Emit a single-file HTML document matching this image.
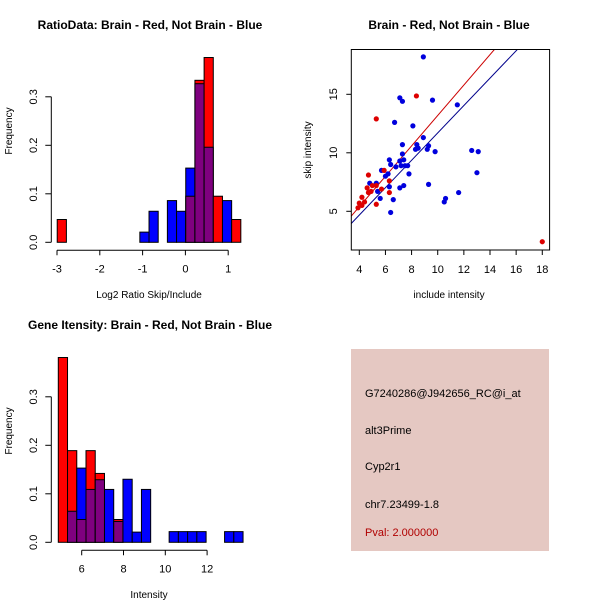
<!DOCTYPE html>
<html><head><meta charset="utf-8"><style>
body{margin:0;background:#fff}
svg{display:block;font-family:"Liberation Sans",sans-serif}
</style></head><body>
<svg id="s" width="600" height="600" xmlns="http://www.w3.org/2000/svg">
<rect x="0" y="0" width="600" height="600" fill="#fff"/>
<g>
<rect x="351" y="349" width="198" height="202" fill="#e5c8c2"/>
<text x="365" y="397" font-size="11" fill="#000">G7240286@J942656_RC@i_at</text>
<text x="365" y="434" font-size="11" fill="#000">alt3Prime</text>
<text x="365" y="470" font-size="11" fill="#000">Cyp2r1</text>
<text x="365" y="508" font-size="11" fill="#000">chr7.23499-1.8</text>
<text x="365" y="536" font-size="11" fill="#b00000">Pval: 2.000000</text>
</g>
</svg>
<script>
// ---- Ratio histogram data ----
const ratioBinStart = -2.995;
const ratioBinWidth = 0.2145;
const ratioRed  = [0.047,0,0,0,0,0,0,0,0,0,0,0,0,0,0.095,0.334,0.381,0.095,0,0.047];
const ratioBlue = [0,0,0,0,0,0,0,0,0,0.021,0.064,0,0.086,0.064,0.153,0.327,0.196,0,0.086,0];
const ratioXTicks = [-3,-2,-1,0,1];
const freqTicks = [0,0.1,0.2,0.3];
const freqTickLabels = ["0.0","0.1","0.2","0.3"];
// ---- Intensity histogram data ----
const intBinStart = 4.88;
const intBinWidth = 0.442;
const intRed  = [0.381,0.189,0.047,0.189,0.142,0,0.047,0,0,0,0,0,0,0,0,0,0,0,0,0];
const intBlue = [0,0.064,0.153,0.109,0.129,0.109,0.043,0.13,0.021,0.109,0,0,0.022,0.022,0.022,0.022,0,0,0.022,0.022];
const intXTicks = [6,8,10,12];
// ---- Scatter data ----
const redX = [3.9,4.0,4.2,4.2,4.4,4.6,4.7,4.7,4.9,5.0,5.3,5.3,5.7,5.9,6.3,6.3,5.3,8.37,18.0];
const redY = [5.3,5.7,5.5,6.2,5.8,7.0,8.1,6.6,6.7,7.2,5.6,7.2,6.9,8.5,7.6,6.6,12.9,14.86,2.4];
const blueX = [4.8,5.3,5.4,5.6,5.7,6.0,6.2,6.3,6.3,6.4,6.4,6.6,6.7,6.8,7.1,7.1,7.1,7.2,7.3,7.3,7.3,7.4,7.4,7.5,7.7,7.8,8.1,8.3,8.4,8.5,8.9,8.9,9.2,9.3,9.3,9.6,9.8,10.5,10.6,11.5,11.6,12.6,13.0,13.1];
const blueY = [7.4,7.4,6.7,6.1,8.5,8.0,8.2,9.4,7.1,9.0,4.9,6.0,12.6,8.8,14.7,9.3,7.0,8.9,9.9,14.4,10.7,9.4,7.2,8.9,8.9,8.2,12.3,10.3,10.7,10.4,18.2,11.3,10.3,7.3,10.6,14.5,10.1,5.8,6.1,14.1,6.6,10.2,8.3,10.1];
const redFit = [0.19,1.30];
const blueFit = [0.0,1.17];
const scatXTicks = [4,6,8,10,12,14,16,18];
const scatYTicks = [5,10,15];

const NS="http://www.w3.org/2000/svg";
const svg=document.getElementById('s');
function mk(tag,attrs,parent){const e=document.createElementNS(NS,tag);for(const k in attrs)e.setAttribute(k,attrs[k]);(parent||svg).appendChild(e);return e;}
function txt(x,y,s,attrs,parent){const e=mk('text',Object.assign({x:x,y:y},attrs),parent);e.textContent=s;return e;}

function histogram(name,title,xlabel,top,x0px,unitPx,binStart,binW,red,blue,xticks){
  const g=mk('g',{});
  
  
  const base=top+242.3, per=485;
  const sx=v=>x0px+v*unitPx, sy=v=>base-v*per;
  const n=Math.max(red.length,blue.length);
  for(let i=0;i<n;i++){
    const l=sx(binStart+i*binW), w=binW*unitPx;
    const r=red[i]||0,b=blue[i]||0;
    const hi=Math.max(r,b), lo=Math.min(r,b);
    if(hi>0){
      const bar=mk('rect',{x:l,y:sy(hi),width:w,height:hi*per,fill:r>=b?'#ff0000':'#0000ff',stroke:'#000','stroke-width':1},g);
      
      
    }
    if(lo>0){
      const ov=mk('rect',{x:l,y:sy(lo),width:w,height:lo*per,fill:'#7f007f',stroke:'#000','stroke-width':1},g);
      
      
    }
  }
  const ya=mk('g',{},g);
  
  
  mk('line',{x1:51.3,x2:51.3,y1:sy(0),y2:sy(0.3),stroke:'#000'},ya);
  freqTicks.forEach((t,i)=>{
    mk('line',{x1:51.3,x2:45.3,y1:sy(t),y2:sy(t),stroke:'#000'},ya);
    const tl=txt(37,sy(t),freqTickLabels[i],{'font-size':11,'text-anchor':'middle',transform:`rotate(-90 37 ${sy(t)})`},ya);
    
    
  });
  const yt=txt(12,top+131,'Frequency',{'font-size':10,'text-anchor':'middle',transform:`rotate(-90 12 ${top+131})`},g);
  
  
  const xa=mk('g',{},g);
  
  
  const ay=base+8;
  mk('line',{x1:sx(xticks[0]),x2:sx(xticks[xticks.length-1]),y1:ay,y2:ay,stroke:'#000'},xa);
  xticks.forEach(t=>{
    mk('line',{x1:sx(t),x2:sx(t),y1:ay,y2:ay+5,stroke:'#000'},xa);
    const tl=txt(sx(t),ay+22,String(t),{'font-size':11,'text-anchor':'middle'},xa);
    
    
  });
  const xt=txt(149,top+298,xlabel,{'font-size':10,'text-anchor':'middle'},g);
  
  
  const tt=txt(150,top+29,title,{'font-size':12,'font-weight':'bold','text-anchor':'middle'},g);
  
  
}
histogram('ratio-histogram','RatioData: Brain - Red, Not Brain - Blue','Log2 Ratio Skip/Include',0,185.4,42.8,ratioBinStart,ratioBinWidth,ratioRed,ratioBlue,ratioXTicks);
histogram('intensity-histogram','Gene Itensity: Brain - Red, Not Brain - Blue','Intensity',300,81.7-6*20.9,20.9,intBinStart,intBinWidth,intRed,intBlue,intXTicks);

(function(){
  const g=mk('g',{});
  
  
  const L=351.3,R=549.6,T=49.5,B=250;
  const sx=v=>359.3+(v-4)*13.07, sy=v=>211.3-(v-5)*11.7;
  const clip=mk('clipPath',{id:'pc'},g);mk('rect',{x:L,y:T,width:R-L,height:B-T},clip);
  const cg=mk('g',{'clip-path':'url(#pc)'},g);
  [[blueFit,'#00008b','blue'],[redFit,'#cc0000','red']].forEach(([f,c,n])=>{
    const ln=mk('line',{x1:sx(2),y1:sy(f[0]+f[1]*2),x2:sx(20),y2:sy(f[0]+f[1]*20),stroke:c,'stroke-width':1},cg);
    
    
  });
  blueX.forEach((x,i)=>{const p=mk('circle',{cx:sx(x),cy:sy(blueY[i]),r:2.6,fill:'#0000dd'},g);
    
    });
  redX.forEach((x,i)=>{const p=mk('circle',{cx:sx(x),cy:sy(redY[i]),r:2.6,fill:'#dd0000'},g);
    
    });
  const fr=mk('rect',{x:L,y:T,width:R-L,height:B-T,fill:'none',stroke:'#000'},g);
  
  
  scatXTicks.forEach(t=>{mk('line',{x1:sx(t),x2:sx(t),y1:B,y2:B+5,stroke:'#000'},g);
    const tl=txt(sx(t),B+23,String(t),{'font-size':11,'text-anchor':'middle'},g);
    
    });
  scatYTicks.forEach(t=>{mk('line',{x1:L,x2:L-5,y1:sy(t),y2:sy(t),stroke:'#000'},g);
    const tl=txt(337,sy(t),String(t),{'font-size':11,'text-anchor':'middle',transform:`rotate(-90 337 ${sy(t)})`},g);
    
    });
  const xt=txt(449,298,'include intensity',{'font-size':10,'text-anchor':'middle'},g);
  
  
  const yt=txt(311,150,'skip intensity',{'font-size':10,'text-anchor':'middle',transform:'rotate(-90 311 150)'},g);
  
  
  const tt=txt(449,29,'Brain - Red, Not Brain - Blue',{'font-size':12,'font-weight':'bold','text-anchor':'middle'},g);
  
  
})();
</script>
</body></html>
